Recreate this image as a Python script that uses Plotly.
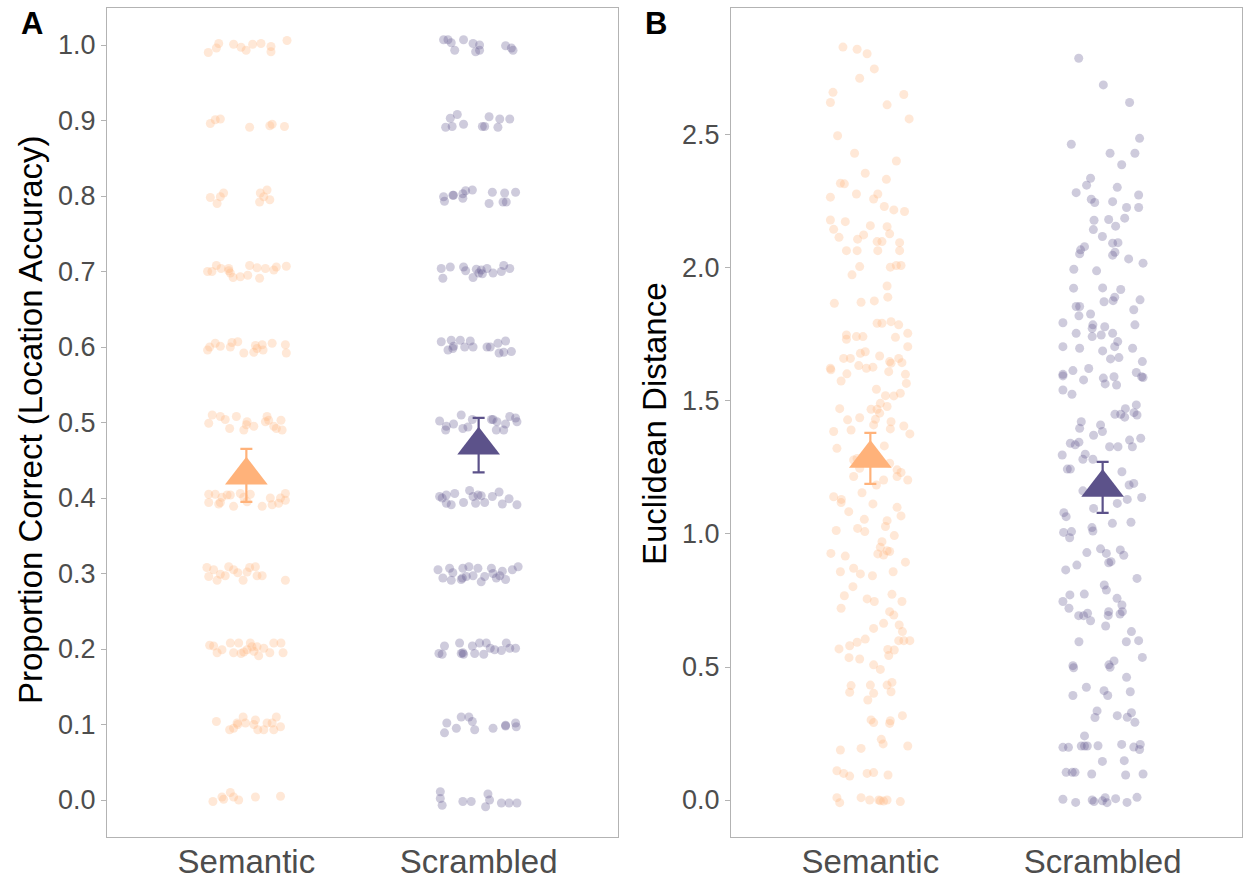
import plotly.graph_objects as go

# ---------------- data ----------------
categories = ["Semantic", "Scrambled"]
colors = ["#FFB27A", "#5C528A"]

# Panel A: proportion correct (jittered points: horizontal jitter offset + value)
a_sem_jit = [-0.164,-0.129,-0.119,-0.055,-0.023,-0.001,0.027,0.063,0.106,0.106,0.175,
             -0.155,-0.134,-0.112,0.014,0.101,0.111,0.164,
             -0.155,-0.126,-0.112,-0.098,0.060,0.089,0.057,0.101,0.075,
             -0.167,-0.148,-0.129,-0.109,-0.076,-0.069,-0.057,-0.026,0.006,0.014,0.046,0.057,0.082,0.118,0.129,0.172,-0.076,
             -0.167,-0.158,-0.134,-0.112,-0.069,-0.062,-0.037,-0.011,0.032,0.039,0.068,0.072,0.111,0.168,0.172,0.046,
             -0.162,-0.147,-0.112,-0.091,-0.072,-0.043,-0.011,0.000,0.032,0.082,0.089,0.096,0.118,0.149,0.154,0.129,0.003,
             -0.162,-0.162,-0.134,-0.119,-0.112,-0.083,-0.069,-0.055,-0.026,0.003,0.017,0.068,0.103,0.111,0.139,0.147,0.168,0.168,-0.105,-0.011,
             -0.170,-0.162,-0.141,-0.126,-0.112,-0.076,-0.055,-0.037,-0.014,0.014,0.039,0.046,0.068,0.168,0.003,-0.091,
             -0.158,-0.141,-0.126,-0.105,-0.069,-0.055,-0.033,-0.023,0.003,0.017,0.024,0.046,0.053,0.075,0.101,0.118,0.149,0.158,-0.011,0.032,
             -0.129,-0.072,-0.055,-0.037,-0.014,-0.004,0.039,0.049,0.075,0.089,0.111,0.118,0.129,0.147,-0.040,0.032,
             -0.144,-0.105,-0.069,-0.055,-0.033,0.039,0.147,-0.098]
a_sem_val = [0.990,0.996,1.002,1.001,0.997,0.993,1.001,1.002,0.998,0.991,1.006,
             0.896,0.901,0.902,0.891,0.893,0.895,0.892,
             0.798,0.790,0.799,0.804,0.804,0.808,0.792,0.795,0.799,
             0.700,0.700,0.708,0.704,0.704,0.698,0.692,0.693,0.695,0.708,0.705,0.691,0.704,0.702,0.706,0.707,0.701,
             0.596,0.600,0.605,0.601,0.600,0.606,0.607,0.592,0.593,0.602,0.603,0.596,0.605,0.603,0.592,0.598,
             0.499,0.510,0.508,0.504,0.492,0.508,0.490,0.497,0.495,0.501,0.508,0.503,0.495,0.503,0.490,0.492,0.501,
             0.405,0.394,0.405,0.392,0.394,0.404,0.404,0.389,0.406,0.395,0.405,0.389,0.400,0.391,0.393,0.400,0.406,0.397,0.401,0.401,
             0.308,0.296,0.305,0.291,0.299,0.309,0.305,0.301,0.291,0.308,0.309,0.297,0.297,0.291,0.302,0.297,
             0.205,0.204,0.195,0.199,0.208,0.195,0.208,0.194,0.199,0.208,0.203,0.203,0.191,0.201,0.195,0.208,0.208,0.195,0.196,0.197,
             0.104,0.093,0.095,0.100,0.110,0.102,0.106,0.093,0.093,0.102,0.102,0.093,0.110,0.097,0.102,0.100,
             -0.002,0.004,0.010,0.004,0.000,0.004,0.005,0.001]

a_scr_jit = [-0.151,-0.132,-0.118,-0.103,-0.065,-0.024,-0.013,0.004,0.004,0.116,0.141,0.148,
             -0.142,-0.122,-0.114,-0.092,-0.065,0.016,0.026,0.045,0.083,0.091,0.134,
             -0.151,-0.147,-0.111,-0.108,-0.068,-0.068,-0.056,-0.027,0.045,0.059,0.105,0.112,0.119,0.159,
             -0.161,-0.154,-0.122,-0.065,-0.056,-0.024,-0.010,0.001,0.016,0.036,0.062,0.098,0.108,0.134,0.011,
             -0.161,-0.132,-0.118,-0.108,-0.079,-0.060,-0.036,-0.024,0.036,0.050,0.083,0.088,0.116,0.108,0.141,-0.111,
             -0.168,-0.142,-0.139,-0.108,-0.075,-0.068,-0.046,-0.027,0.062,0.079,0.076,0.108,0.116,0.134,0.159,0.165,0.055,
             -0.168,-0.157,-0.139,-0.118,-0.103,-0.065,-0.039,-0.024,-0.013,-0.003,0.026,0.059,0.088,0.102,0.131,0.165,-0.139,0.011,
             -0.175,-0.154,-0.125,-0.118,-0.111,-0.075,-0.068,-0.053,-0.042,-0.024,-0.003,0.011,0.026,0.055,0.062,0.076,0.102,0.116,0.145,0.170,-0.070,0.091,
             -0.171,-0.147,-0.157,-0.082,-0.075,-0.065,-0.027,-0.017,0.004,0.022,0.033,0.050,0.069,0.098,0.119,0.134,0.159,-0.068,
             -0.147,-0.137,-0.096,-0.075,-0.042,-0.027,-0.017,0.062,0.116,0.116,0.159,0.162,
             -0.165,-0.165,-0.157,-0.068,-0.032,0.030,0.040,0.047,0.098,0.131,0.165]
a_scr_val = [1.007,1.007,1.003,0.993,1.007,1.002,0.991,1.000,0.993,0.999,0.996,0.993,
             0.891,0.903,0.892,0.908,0.895,0.892,0.892,0.905,0.891,0.902,0.902,
             0.799,0.793,0.801,0.801,0.797,0.803,0.807,0.808,0.790,0.805,0.792,0.804,0.792,0.805,
             0.704,0.691,0.706,0.706,0.701,0.692,0.703,0.698,0.697,0.704,0.698,0.700,0.708,0.704,0.702,
             0.607,0.596,0.609,0.601,0.609,0.600,0.608,0.600,0.600,0.600,0.605,0.592,0.608,0.593,0.594,0.598,
             0.502,0.490,0.495,0.498,0.510,0.492,0.494,0.504,0.504,0.501,0.490,0.490,0.498,0.508,0.506,0.501,0.504,
             0.402,0.400,0.393,0.391,0.406,0.394,0.410,0.402,0.393,0.404,0.394,0.402,0.408,0.392,0.399,0.391,0.404,0.403,
             0.305,0.294,0.307,0.291,0.301,0.292,0.307,0.296,0.309,0.297,0.307,0.289,0.296,0.307,0.300,0.294,0.303,0.292,0.305,0.309,0.294,0.297,
             0.194,0.204,0.193,0.208,0.194,0.193,0.204,0.194,0.208,0.193,0.208,0.201,0.199,0.198,0.208,0.201,0.201,0.195,
             0.089,0.102,0.095,0.110,0.110,0.104,0.093,0.095,0.098,0.099,0.102,0.097,
             0.011,0.002,-0.007,-0.002,-0.002,-0.009,0.008,0.000,-0.004,-0.004,-0.004]

# Panel B: Euclidean distance
b_sem_jit = [-0.118,-0.057,-0.014,0.017,-0.046,-0.161,-0.172,0.144,0.072,0.167,
             -0.141,-0.068,0.112,-0.022,0.069,-0.129,-0.112,-0.172,-0.060,0.032,
             0.014,0.060,0.101,0.147,-0.172,-0.108,-0.158,0.000,0.072,0.083,
             -0.135,-0.055,-0.029,0.029,0.050,0.126,-0.103,-0.057,0.032,0.126,
             -0.046,0.086,0.112,0.132,-0.079,0.072,-0.155,-0.040,0.017,0.075,
             0.029,0.050,0.089,0.122,0.161,-0.103,-0.103,-0.060,-0.032,0.108,
             0.161,-0.043,-0.022,0.040,-0.115,-0.086,-0.172,-0.170,-0.050,-0.017,
             0.011,0.083,0.089,0.122,0.136,-0.101,0.079,0.151,-0.126,0.155,
             0.026,0.065,0.101,0.129,0.043,0.072,-0.132,0.003,0.029,0.040,
             -0.046,-0.098,0.022,0.089,0.144,-0.158,-0.083,0.014,0.086,0.170,
             -0.144,
             -0.072,-0.057,0.060,0.083,0.115,0.132,0.161,0.115,-0.072,-0.046,
             0.057,0.026,-0.036,-0.158,-0.125,-0.126,0.011,0.115,0.132,-0.093,
             -0.026,0.072,0.065,-0.147,-0.055,-0.024,0.103,-0.170,-0.108,0.050,
             0.043,0.072,0.032,0.057,0.083,0.151,-0.129,-0.072,-0.043,0.009,
             0.098,-0.075,-0.112,-0.014,0.017,0.093,0.136,-0.126,0.083,0.101,
             0.057,0.014,0.124,0.138,0.144,0.122,0.170,-0.135,-0.089,-0.057,
             -0.022,-0.046,-0.092,0.075,0.103,0.079,0.014,0.043,-0.083,-0.089,
             0.000,0.014,0.072,0.093,0.089,-0.011,0.003,0.014,0.086,0.083,
             0.138,0.047,0.055,-0.129,-0.040,0.161,-0.144,-0.115,-0.089,-0.014,
             0.014,0.076,-0.144,-0.132,-0.040,-0.003,0.036,0.043,0.057,0.072,0.129]
b_sem_val = [2.830,2.822,2.805,2.748,2.713,2.660,2.622,2.652,2.613,2.560,
             2.497,2.431,2.402,2.356,2.333,2.318,2.316,2.266,2.278,2.278,
             2.259,2.231,2.218,2.212,2.180,2.174,2.145,2.159,2.155,2.128,
             2.115,2.108,2.124,2.099,2.099,2.095,2.065,2.065,2.065,2.065,
             2.005,2.003,2.009,2.009,1.974,1.932,1.867,1.871,1.876,1.890,
             1.792,1.792,1.798,1.786,1.754,1.748,1.732,1.742,1.742,1.739,
             1.704,1.679,1.685,1.669,1.660,1.660,1.623,1.617,1.633,1.623,
             1.627,1.648,1.642,1.660,1.644,1.602,1.610,1.600,1.575,1.566,
             1.544,1.520,1.519,1.529,1.491,1.479,1.471,1.469,1.469,1.454,
             1.437,1.429,1.431,1.422,1.406,1.385,1.391,1.410,1.395,1.376,
             1.322,
             1.278,1.284,1.331,1.266,1.241,1.231,1.203,1.216,1.216,1.247,
             1.203,1.184,1.155,1.140,1.130,1.118,1.113,1.100,1.068,1.084,
             1.055,1.050,1.028,1.013,1.021,1.009,0.994,0.927,0.917,0.971,
             0.950,0.937,0.925,0.921,0.934,0.894,0.858,0.871,0.850,0.843,
             0.858,0.802,0.768,0.756,0.746,0.773,0.746,0.721,0.708,0.695,
             0.664,0.645,0.658,0.633,0.599,0.599,0.599,0.568,0.580,0.593,
             0.605,0.530,0.535,0.566,0.564,0.543,0.508,0.491,0.430,0.405,
             0.432,0.401,0.432,0.442,0.407,0.376,0.301,0.291,0.298,0.288,
             0.317,0.228,0.211,0.188,0.194,0.203,0.110,0.100,0.090,0.100,
             0.103,0.094,0.009,-0.010,0.009,0.000,0.000,-0.003,-0.004,0.000,-0.006]

b_scr_jit = [-0.103,0.003,0.116,0.159,-0.135,0.032,0.139,0.082,-0.052,-0.069,
             0.063,-0.114,0.155,-0.049,-0.034,0.043,0.103,0.155,-0.037,0.026,
             0.056,0.095,-0.040,-0.001,0.043,0.066,-0.078,-0.095,-0.099,0.053,
             0.043,0.112,0.174,-0.124,-0.026,-0.125,0.000,0.078,0.052,0.045,
             0.006,0.161,0.134,-0.114,-0.099,-0.102,-0.052,-0.171,-0.042,-0.045,
             0.009,0.139,-0.114,-0.045,-0.006,0.043,-0.171,-0.099,0.000,0.052,
             0.065,0.129,0.034,0.070,0.171,-0.171,-0.171,-0.128,-0.060,-0.082,
             0.003,0.011,0.049,0.060,0.145,0.168,0.174,-0.171,-0.132,0.053,
             0.078,0.098,0.095,0.145,0.135,0.148,-0.092,-0.099,-0.009,-0.001,
             -0.039,-0.139,-0.118,-0.102,0.030,0.066,0.116,0.164,0.128,
             -0.174,-0.085,-0.075,-0.042,-0.152,-0.139,0.083,0.114,0.134,-0.085,
             0.168,0.106,0.063,-0.039,-0.167,-0.157,0.042,0.122,-0.168,-0.134,
             -0.142,-0.046,-0.042,-0.068,-0.009,0.016,0.076,0.091,0.026,0.036,
             -0.159,-0.111,0.148,0.007,0.016,-0.141,-0.079,-0.171,-0.145,0.062,
             0.083,-0.103,-0.082,-0.065,-0.052,0.026,0.024,0.075,0.085,0.013,
             0.124,-0.102,0.102,0.155,0.171,-0.128,-0.125,0.027,0.049,0.032,
             0.103,-0.070,-0.128,0.006,0.022,0.119,-0.024,-0.033,0.063,0.106,
             0.124,0.139,-0.078,-0.171,-0.147,-0.092,-0.078,-0.066,-0.020,0.082,
             0.134,0.162,0.159,-0.001,0.093,-0.157,-0.131,-0.119,-0.047,0.099,
             0.174,-0.171,-0.116,-0.045,-0.037,-0.001,0.011,0.019,0.056,0.105,0.148]
b_scr_val = [2.788,2.688,2.622,2.487,2.465,2.431,2.431,2.388,2.337,2.311,
             2.303,2.283,2.274,2.258,2.246,2.249,2.227,2.227,2.179,2.182,
             2.157,2.187,2.144,2.118,2.093,2.095,2.080,2.068,2.053,2.059,
             2.048,2.034,2.018,1.995,1.989,1.924,1.925,1.919,1.890,1.877,
             1.873,1.880,1.843,1.855,1.855,1.820,1.827,1.794,1.786,1.773,
             1.779,1.786,1.754,1.742,1.748,1.754,1.704,1.698,1.688,1.704,
             1.723,1.698,1.658,1.663,1.648,1.600,1.594,1.614,1.622,1.579,
             1.586,1.564,1.591,1.560,1.607,1.591,1.588,1.541,1.525,1.450,
             1.450,1.471,1.439,1.485,1.456,1.447,1.422,1.397,1.410,1.385,
             1.371,1.341,1.335,1.345,1.328,1.328,1.353,1.360,1.328,
             1.297,1.281,1.300,1.281,1.244,1.244,1.234,1.184,1.190,1.162,
             1.137,1.130,1.115,1.096,1.080,1.065,1.040,1.044,1.006,1.009,
             0.986,1.024,1.011,0.930,0.944,0.927,0.940,0.920,0.892,0.896,
             0.865,0.883,0.833,0.808,0.789,0.771,0.774,0.746,0.721,0.758,
             0.733,0.693,0.693,0.702,0.674,0.708,0.694,0.699,0.708,0.654,
             0.633,0.595,0.595,0.599,0.536,0.505,0.497,0.508,0.523,0.499,
             0.461,0.424,0.393,0.411,0.393,0.407,0.335,0.310,0.317,0.311,
             0.328,0.292,0.241,0.198,0.198,0.203,0.203,0.203,0.204,0.209,
             0.199,0.209,0.190,0.145,0.148,0.104,0.104,0.104,0.098,0.094,
             0.098,0.003,-0.009,0.000,-0.006,-0.003,0.009,-0.010,0.005,-0.009,0.010]

# group means and standard errors
a_mean = [0.430, 0.470]
a_se = [0.035, 0.036]
b_mean = [1.284, 1.175]
b_se = [0.096, 0.096]

a_ticks = [0.0, 0.1, 0.2, 0.3, 0.4, 0.5, 0.6, 0.7, 0.8, 0.9, 1.0]
b_ticks = [0.0, 0.5, 1.0, 1.5, 2.0, 2.5]

# ---------------- figure ----------------
W, H = 1244, 879
FONT = "Liberation Sans, Arial, Helvetica, sans-serif"
TICKCOL = "#4D4D4D"
BORDER = "#B3B3B3"

fig = go.Figure()

def add_points(jit, val, idx, xa, ya):
    fig.add_trace(go.Scatter(
        x=[idx + 1 + j for j in jit], y=val, mode="markers",
        marker=dict(size=9, color=colors[idx], opacity=0.3, line=dict(width=0)),
        xaxis=xa, yaxis=ya, showlegend=False, hoverinfo="skip"))

def add_mean(mean, se, xa, ya):
    for i in range(2):
        fig.add_trace(go.Scatter(
            x=[i + 1], y=[mean[i]], mode="markers",
            marker=dict(symbol="triangle-up", size=37, color=colors[i], line=dict(width=0)),
            error_y=dict(type="data", array=[se[i]], color=colors[i], thickness=2.2, width=6),
            xaxis=xa, yaxis=ya, showlegend=False))

add_points(a_sem_jit, a_sem_val, 0, "x", "y")
add_points(a_scr_jit, a_scr_val, 1, "x", "y")
add_mean(a_mean, a_se, "x", "y")
add_points(b_sem_jit, b_sem_val, 0, "x2", "y2")
add_points(b_scr_jit, b_scr_val, 1, "x2", "y2")
add_mean(b_mean, b_se, "x2", "y2")

xcommon = dict(range=[0.4, 2.6], tickvals=[1, 2], ticktext=categories, ticks="",
               showgrid=False, zeroline=False, showline=True, mirror=True,
               linecolor=BORDER, linewidth=1, ticklabelstandoff=-5,
               tickfont=dict(family=FONT, size=33, color=TICKCOL), automargin=False)
ycommon = dict(showgrid=False, zeroline=False, showline=True, mirror=True,
               linecolor=BORDER, linewidth=1, ticks="outside", ticklen=5,
               tickcolor=BORDER, tickwidth=1, tickformat=".1f",
               tickfont=dict(family=FONT, size=27, color=TICKCOL), automargin=False)

ytop, ybot = 1 - 8 / H, 1 - 837 / H
fig.update_layout(
    width=W, height=H, margin=dict(l=0, r=0, t=0, b=0),
    paper_bgcolor="white", plot_bgcolor="white",
    xaxis=dict(domain=[107 / W, 618 / W], anchor="y", **xcommon),
    yaxis=dict(domain=[ybot, ytop], anchor="x", range=[-0.049, 1.049], tickvals=a_ticks, **ycommon),
    xaxis2=dict(domain=[731 / W, 1242 / W], anchor="y2", **xcommon),
    yaxis2=dict(domain=[ybot, ytop], anchor="x2", range=[-0.139, 2.977], tickvals=b_ticks, **ycommon),
    annotations=[
        dict(text="<b>A</b>", x=32 / W, y=1 - 23 / H, xref="paper", yref="paper",
             xanchor="center", yanchor="middle",
             showarrow=False, font=dict(family=FONT, size=31, color="black")),
        dict(text="<b>B</b>", x=656 / W, y=1 - 23 / H, xref="paper", yref="paper",
             xanchor="center", yanchor="middle",
             showarrow=False, font=dict(family=FONT, size=31, color="black")),
        dict(text="Proportion Correct (Location Accuracy)", x=30 / W, y=1 - 420 / H,
             xref="paper", yref="paper", showarrow=False, textangle=-90,
             xanchor="center", yanchor="middle",
             font=dict(family=FONT, size=33, color="black")),
        dict(text="Euclidean Distance", x=654 / W, y=1 - 424 / H,
             xref="paper", yref="paper", showarrow=False, textangle=-90,
             xanchor="center", yanchor="middle",
             font=dict(family=FONT, size=33, color="black")),
    ],
)

fig.write_html("out.html", config={"displayModeBar": False},
               post_script="document.body.style.margin='0px';document.body.style.padding='0px';")
